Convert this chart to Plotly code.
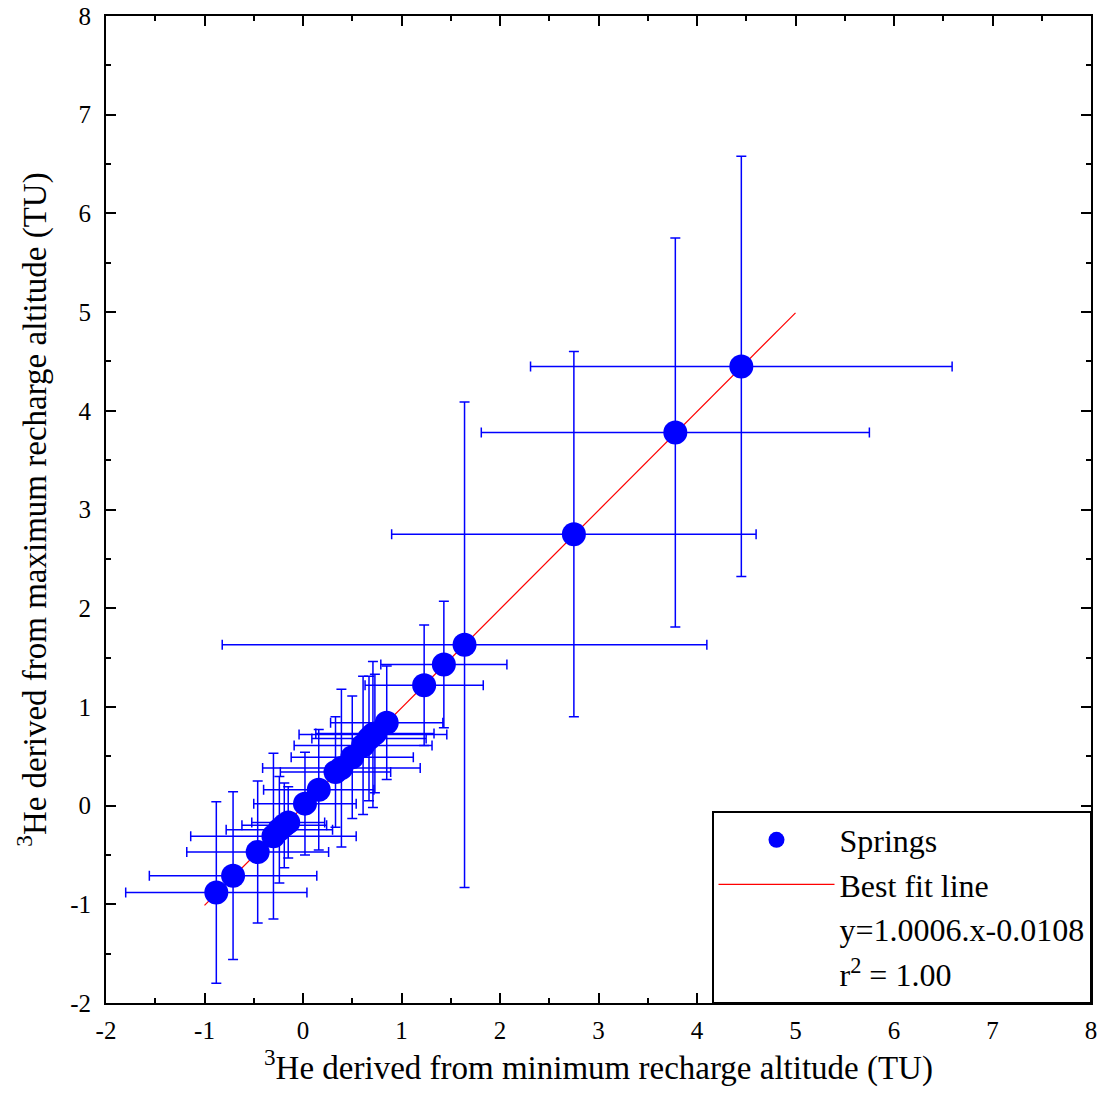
import plotly.graph_objects as go

# Data (TU)
x_min_alt = [-0.88, -0.71, -0.46, -0.30, -0.24, -0.19, -0.15, 0.02, 0.16, 0.33, 0.39,
             0.50, 0.61, 0.67, 0.71, 0.73, 0.85, 1.23, 1.43, 1.64, 2.75, 3.78, 4.45]
y_max_alt = [-0.88, -0.71, -0.47, -0.31, -0.245, -0.20, -0.17, 0.02, 0.16, 0.34, 0.38,
             0.49, 0.61, 0.68, 0.72, 0.73, 0.84, 1.22, 1.43, 1.63, 2.75, 3.78, 4.45]
x_err = [0.92, 0.85, 0.72, 0.84, 0.54, 0.43, 0.37, 0.52, 0.56, 0.56, 0.80,
         0.62, 0.70, 0.58, 0.75, 0.60, 0.57, 0.60, 0.64, 2.46, 1.85, 1.97, 2.14]
y_err = [0.92, 0.85, 0.72, 0.84, 0.54, 0.43, 0.36, 0.52, 0.61, 0.56, 0.80,
         0.62, 0.70, 0.63, 0.74, 0.60, 0.575, 0.61, 0.64, 2.46, 1.85, 1.97, 2.13]

fit_slope = 1.0006
fit_intercept = -0.0108
fit_x = [-1, 5]
fit_y = [fit_slope * v + fit_intercept for v in fit_x]

tick_vals = [-2, -1, 0, 1, 2, 3, 4, 5, 6, 7, 8]
tick_text = ["-2", "-1", "0", "1", "2", "3", "4", "5", "6", "7", "8"]

FONT = "Liberation Serif"
BLUE = "#0000FF"

fig = go.Figure()

fig.add_trace(go.Scatter(
    x=fit_x, y=fit_y, mode="lines", name="Best fit line",
    line=dict(color="#FF0000", width=1.2), legendrank=2,
))

fig.add_trace(go.Scatter(
    x=x_min_alt, y=y_max_alt, mode="markers", name="Springs",
    marker=dict(color=BLUE, size=24, line=dict(width=0)),
    error_x=dict(type="data", array=x_err, color=BLUE, thickness=1.5, width=5),
    error_y=dict(type="data", array=y_err, color=BLUE, thickness=1.5, width=5),
    legendrank=1,
))

fig.add_trace(go.Scatter(
    x=[None], y=[None], mode="lines", name="y=1.0006.x-0.0108",
    line=dict(width=0, color="rgba(0,0,0,0)"), legendrank=3,
))
fig.add_trace(go.Scatter(
    x=[None], y=[None], mode="lines", name="r<sup>2</sup> = 1.00",
    line=dict(width=0, color="rgba(0,0,0,0)"), legendrank=4,
))

axis_common = dict(
    tickvals=tick_vals, ticktext=tick_text,
    ticks="inside", ticklen=10, tickwidth=1.5, tickcolor="black",
    showline=True, linecolor="black", linewidth=2, mirror="ticks",
    showgrid=False, zeroline=False, automargin=False,
    tickfont=dict(family=FONT, size=25, color="black"),
    minor=dict(ticks="inside", ticklen=5, tickwidth=1.5, tickcolor="black", dtick=0.5),
    range=[-2, 8],
)

fig.update_layout(
    width=1104, height=1102,
    margin=dict(l=106, r=13, t=16, b=99),
    paper_bgcolor="white", plot_bgcolor="white",
    font=dict(family=FONT, color="black"),
    showlegend=True,
    legend=dict(
        x=1, xanchor="right", y=0, yanchor="bottom",
        bordercolor="black", borderwidth=1.5, bgcolor="white",
        font=dict(family=FONT, size=32, color="black"),
        itemwidth=116, tracegroupgap=0,
    ),
    xaxis=dict(axis_common, ticklabelstandoff=4, title=dict(
        text="<sup>3</sup>He derived from minimum recharge altitude (TU)",
        font=dict(family=FONT, size=33), standoff=10)),
    yaxis=dict(axis_common, ticklabelstandoff=8, title=dict(
        text="<sup>3</sup>He derived from maximum recharge altitude (TU)",
        font=dict(family=FONT, size=33), standoff=14)),
)

fig.write_html("out.html")
